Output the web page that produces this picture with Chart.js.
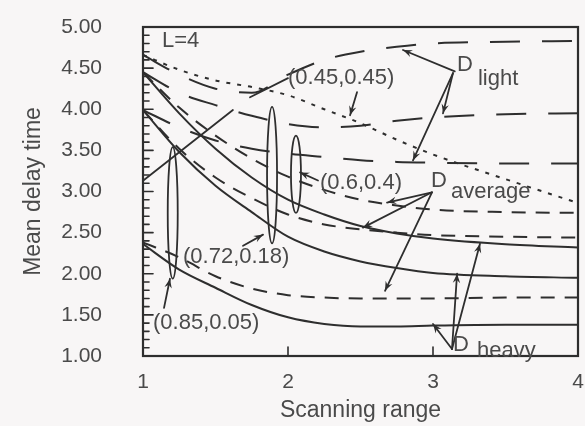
<!DOCTYPE html>
<html>
<head>
<meta charset="utf-8">
<script src="https://cdn.jsdelivr.net/npm/chart.js@4.4.0/dist/chart.umd.min.js"></script>
<style>
  html, body { margin: 0; padding: 0; background: #f8f6f6; }
  #wrap { width: 585px; height: 426px; }
</style>
</head>
<body>
<div id="wrap"><canvas id="chart" width="585" height="426"></canvas></div>
<script>

const scanRange = [1, 1.25, 1.5, 1.75, 2, 2.25, 2.5, 2.75, 3, 3.5, 4];

// D light (long dashes) + the dotted curve
const light1 = [4.66, 4.42, 4.25, 4.20, 4.42, 4.60, 4.70, 4.76, 4.80, 4.82, 4.83];
const light2 = [4.45, 4.20, 4.05, 3.92, 3.82, 3.78, 3.80, 3.86, 3.90, 3.94, 3.95];
const light3 = [3.99, 3.78, 3.62, 3.52, 3.46, 3.42, 3.38, 3.36, 3.35, 3.34, 3.34];
const dotted = [4.66, 4.48, 4.35, 4.27, 4.17, 4.00, 3.83, 3.63, 3.45, 3.15, 2.86];

// D average (short dashes)
const average1 = [4.45, 4.02, 3.68, 3.40, 3.18, 3.02, 2.90, 2.83, 2.78, 2.75, 2.74];
const average2 = [3.99, 3.52, 3.17, 2.92, 2.72, 2.60, 2.54, 2.50, 2.47, 2.45, 2.44];
const average3 = [2.38, 2.20, 1.97, 1.82, 1.74, 1.71, 1.70, 1.70, 1.70, 1.71, 1.71];

// D heavy (solid)
const heavy1 = [4.45, 3.95, 3.52, 3.17, 2.90, 2.72, 2.58, 2.49, 2.43, 2.36, 2.32];
const heavy2 = [3.99, 3.48, 3.07, 2.75, 2.45, 2.27, 2.15, 2.07, 2.01, 1.97, 1.95];
const heavy3 = [2.36, 2.05, 1.83, 1.62, 1.47, 1.39, 1.36, 1.36, 1.37, 1.38, 1.38];

const xTicks = [1, 2, 3, 4];
const yTicks = [1.0, 1.5, 2.0, 2.5, 3.0, 3.5, 4.0, 4.5, 5.0];

const INK = '#2e2e2e';
const TEXT = '#4a4a4a';
const FONT = '"Liberation Sans", Arial, Helvetica, sans-serif';

const LONG = [30, 22];
const SHORT = [14, 10];
const DOT = [4, 7];

function series(label, values, dash) {
  return {
    label,
    data: values.map((v, i) => ({ x: scanRange[i], y: v })),
    borderColor: INK,
    borderWidth: 2,
    borderDash: dash,
    pointRadius: 0,
    fill: false,
    cubicInterpolationMode: 'monotone',
  };
}

// annotations, placed in data units
const labels = [
  { text: 'L=4', x: 1.131, y: 4.83 },
  { text: '(0.45,0.45)', x: 2.0, y: 4.378 },
  { text: '(0.6,0.4)', x: 2.221, y: 3.11 },
  { text: '(0.72,0.18)', x: 1.276, y: 2.207 },
  { text: '(0.85,0.05)', x: 1.069, y: 1.402 },
  { text: 'D', x: 3.166, y: 4.54 },
  { text: 'light', x: 3.31, y: 4.366 },
  { text: 'D', x: 2.986, y: 3.134 },
  { text: 'average', x: 3.124, y: 3.0 },
  { text: 'D', x: 3.138, y: 1.134 },
  { text: 'heavy', x: 3.303, y: 1.061 },
];

const arrows = [
  // D light
  { from: [3.15, 4.46], to: [2.793, 4.72], head: true },
  { from: [3.138, 4.44], to: [3.069, 3.95], head: true },
  { from: [3.138, 4.44], to: [2.862, 3.378], head: true },
  // D average
  { from: [2.993, 2.99], to: [2.683, 2.866], head: true },
  { from: [2.993, 2.99], to: [2.517, 2.561], head: true },
  { from: [2.993, 2.99], to: [2.669, 1.793], head: true },
  // D heavy
  { from: [3.131, 1.085], to: [3.0, 1.39], head: true },
  { from: [3.131, 1.085], to: [3.166, 2.0], head: true },
  { from: [3.131, 1.085], to: [3.324, 2.366], head: true },
  // scenario labels
  { from: [2.476, 4.207], to: [2.428, 3.927], head: true },
  { from: [2.0, 4.378], to: [1.738, 4.146], head: false },
  { from: [2.207, 3.134], to: [2.083, 3.232], head: true },
  { from: [1.69, 2.34], to: [1.828, 2.476], head: true },
  { from: [1.145, 1.585], to: [1.186, 1.939], head: true },
  { from: [1.0, 3.13], to: [1.62, 3.99], head: false },
];

const ellipses = [
  { x: 1.205, y0: 1.94, y1: 3.54 },
  { x: 1.89, y0: 2.37, y1: 4.03 },
  { x: 2.055, y0: 2.74, y1: 3.68 },
];

const overlay = {
  id: 'overlay',
  afterDatasetsDraw(chart) {
    const { ctx, chartArea: a, scales: { x, y } } = chart;
    const px = (v) => x.getPixelForValue(v);
    const py = (v) => y.getPixelForValue(v);
    ctx.save();
    ctx.strokeStyle = INK;
    ctx.fillStyle = INK;
    ctx.lineCap = 'round';

    // frame
    ctx.lineWidth = 2.2;
    ctx.strokeRect(a.left, a.top, a.right - a.left, a.bottom - a.top);

    // inward ticks on the y axis, every 0.1
    ctx.lineWidth = 1.6;
    for (let i = 11; i < 50; i++) {
      const yy = py(i / 10);
      const len = i % 5 === 0 ? 10 : 6;
      ctx.beginPath();
      ctx.moveTo(a.left, yy);
      ctx.lineTo(a.left + len, yy);
      ctx.stroke();
    }
    // inward ticks on the x axis
    xTicks.slice(1, -1).forEach((v) => {
      ctx.beginPath();
      ctx.moveTo(px(v), a.bottom);
      ctx.lineTo(px(v), a.bottom - 9);
      ctx.stroke();
    });

    // ellipses
    ctx.lineWidth = 1.8;
    ellipses.forEach((e) => {
      const top = py(e.y1), bot = py(e.y0);
      ctx.beginPath();
      ctx.ellipse(px(e.x), (top + bot) / 2, 5, (bot - top) / 2, 0, 0, Math.PI * 2);
      ctx.stroke();
    });

    // arrows and leader lines
    ctx.lineWidth = 1.8;
    arrows.forEach((ar) => {
      const x0 = px(ar.from[0]), y0 = py(ar.from[1]);
      const x1 = px(ar.to[0]), y1 = py(ar.to[1]);
      ctx.beginPath();
      ctx.moveTo(x0, y0);
      ctx.lineTo(x1, y1);
      ctx.stroke();
      if (ar.head) {
        const ang = Math.atan2(y1 - y0, x1 - x0);
        const h = 10, w = 0.38;
        ctx.beginPath();
        ctx.moveTo(x1, y1);
        ctx.lineTo(x1 - h * Math.cos(ang - w), y1 - h * Math.sin(ang - w));
        ctx.lineTo(x1 - h * 0.6 * Math.cos(ang), y1 - h * 0.6 * Math.sin(ang));
        ctx.lineTo(x1 - h * Math.cos(ang + w), y1 - h * Math.sin(ang + w));
        ctx.closePath();
        ctx.fill();
      }
    });

    // text
    ctx.fillStyle = TEXT;
    ctx.font = '22px ' + FONT;
    ctx.textAlign = 'left';
    ctx.textBaseline = 'middle';
    labels.forEach((l) => ctx.fillText(l.text, px(l.x), py(l.y)));
    ctx.restore();
  },
};

new Chart(document.getElementById('chart'), {
  type: 'line',
  data: {
    datasets: [
      series('D light 1', light1, LONG),
      series('D light 2', light2, LONG),
      series('D light 3', light3, LONG),
      series('dotted', dotted, DOT),
      series('D average 1', average1, SHORT),
      series('D average 2', average2, SHORT),
      series('D average 3', average3, SHORT),
      series('D heavy 1', heavy1, []),
      series('D heavy 2', heavy2, []),
      series('D heavy 3', heavy3, []),
    ],
  },
  options: {
    responsive: false,
    animation: false,
    layout: { padding: { left: 0, right: 7, top: 27, bottom: 0 } },
    plugins: { legend: { display: false }, tooltip: { enabled: false } },
    scales: {
      x: {
        type: 'linear',
        min: 1,
        max: 4,
        afterBuildTicks: (s) => { s.ticks = xTicks.map((v) => ({ value: v })); },
        afterFit: (s) => { s.height = 70; s.paddingLeft = 0; s.paddingRight = 0; },
        grid: { display: false, drawTicks: false },
        border: { display: false },
        ticks: { color: TEXT, font: { family: FONT, size: 21 }, padding: 14, callback: (v) => String(v) },
        title: {
          display: true, text: 'Scanning range', color: TEXT,
          font: { family: FONT, size: 23 }, padding: { top: 0, bottom: 2 },
        },
      },
      y: {
        type: 'linear',
        min: 1,
        max: 5,
        afterBuildTicks: (s) => { s.ticks = yTicks.map((v) => ({ value: v })); },
        afterFit: (s) => { s.width = 143; s.paddingTop = 0; s.paddingBottom = 0; },
        grid: { display: false, drawTicks: false },
        border: { display: false },
        ticks: { color: TEXT, font: { family: FONT, size: 21 }, padding: 41, callback: (v) => v.toFixed(2) },
        title: {
          display: true, text: 'Mean delay time', color: TEXT,
          font: { family: FONT, size: 23 }, padding: { top: 20, bottom: 0 },
        },
      },
    },
  },
  plugins: [overlay],
});
</script>
</body>
</html>
